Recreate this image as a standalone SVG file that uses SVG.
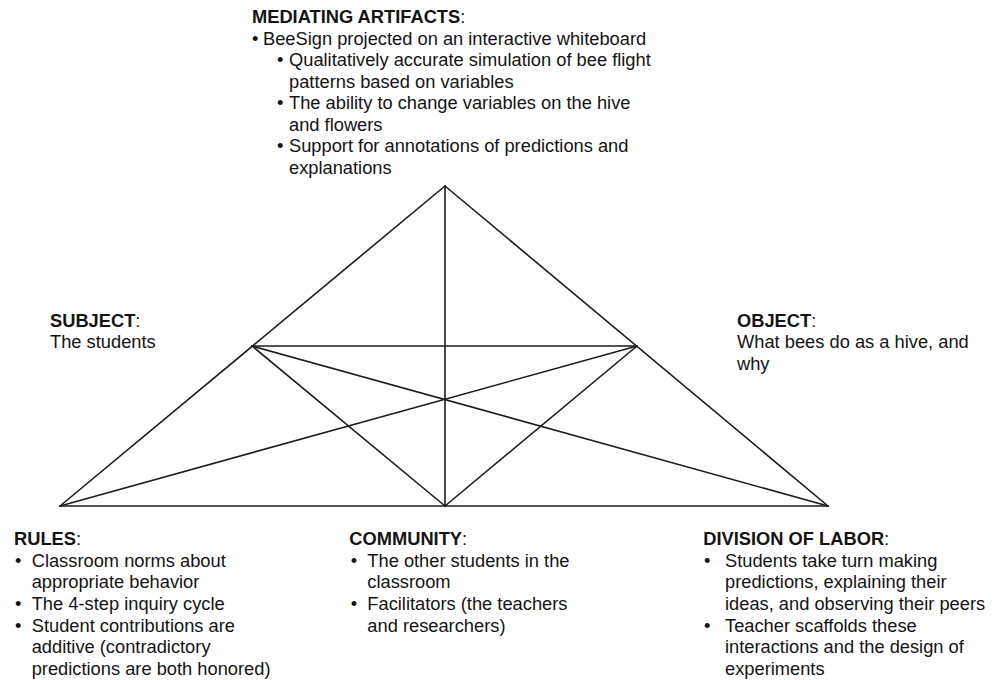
<svg xmlns="http://www.w3.org/2000/svg" width="1003" height="680" viewBox="0 0 1003 680">
<style>
text{font-family:"Liberation Sans",Arial,Helvetica,sans-serif;font-size:18.3px;fill:#141414}
.b{font-weight:bold}
.edge{stroke:#1c1c1c;stroke-width:1.6;fill:none;stroke-linecap:round}
</style>
<rect width="1003" height="680" fill="#ffffff"/>
<g id="connectors">
<line class="edge" x1="445" y1="186" x2="60" y2="506"/>
<line class="edge" x1="445" y1="186" x2="828" y2="506"/>
<line class="edge" x1="60" y1="506" x2="828" y2="506"/>
<line class="edge" x1="445" y1="186" x2="445" y2="506"/>
<line class="edge" x1="252" y1="346" x2="637" y2="346"/>
<line class="edge" x1="252" y1="346" x2="445" y2="506"/>
<line class="edge" x1="637" y1="346" x2="445" y2="506"/>
<line class="edge" x1="252" y1="346" x2="828" y2="506"/>
<line class="edge" x1="637" y1="346" x2="60" y2="506"/>
</g>
<g id="mediating-artifacts">
<text x="252" y="23"><tspan class="b">MEDIATING ARTIFACTS</tspan>:</text>
<text x="252" y="44.5">•</text>
<text x="263" y="44.5">BeeSign projected on an interactive whiteboard</text>
<text x="277" y="66">•</text>
<text x="289" y="66">Qualitatively accurate simulation of bee flight</text>
<text x="289" y="87.5">patterns based on variables</text>
<text x="277" y="109">•</text>
<text x="289" y="109">The ability to change variables on the hive</text>
<text x="289" y="130.5">and flowers</text>
<text x="277" y="152">•</text>
<text x="289" y="152">Support for annotations of predictions and</text>
<text x="289" y="173.5">explanations</text>
</g>
<g id="subject">
<text x="50" y="326.7"><tspan class="b">SUBJECT</tspan>:</text>
<text x="50" y="348.3">The students</text>
</g>
<g id="object">
<text x="737" y="326.7"><tspan class="b">OBJECT</tspan>:</text>
<text x="737" y="348.3">What bees do as a hive, and</text>
<text x="737" y="370">why</text>
</g>
<g id="rules">
<text x="14" y="545"><tspan class="b">RULES</tspan>:</text>
<text x="15" y="566.7">•</text>
<text x="31.7" y="566.7">Classroom norms about</text>
<text x="31.7" y="588.3">appropriate behavior</text>
<text x="15" y="610">•</text>
<text x="31.7" y="610">The 4-step inquiry cycle</text>
<text x="15" y="631.7">•</text>
<text x="31.7" y="631.7">Student contributions are</text>
<text x="31.7" y="653.3">additive (contradictory</text>
<text x="31.7" y="675">predictions are both honored)</text>
</g>
<g id="community">
<text x="349.3" y="545"><tspan class="b">COMMUNITY</tspan>:</text>
<text x="350.7" y="566.7">•</text>
<text x="367.3" y="566.7">The other students in the</text>
<text x="367.3" y="588.3">classroom</text>
<text x="350.7" y="610">•</text>
<text x="367.3" y="610">Facilitators (the teachers</text>
<text x="367.3" y="631.7">and researchers)</text>
</g>
<g id="division-of-labor">
<text x="703.3" y="545"><tspan class="b">DIVISION OF LABOR</tspan>:</text>
<text x="704" y="566.7">•</text>
<text x="725" y="566.7">Students take turn making</text>
<text x="725" y="588.3">predictions, explaining their</text>
<text x="725" y="610">ideas, and observing their peers</text>
<text x="704" y="631.7">•</text>
<text x="725" y="631.7">Teacher scaffolds these</text>
<text x="725" y="653.3">interactions and the design of</text>
<text x="725" y="675">experiments</text>
</g>
</svg>
